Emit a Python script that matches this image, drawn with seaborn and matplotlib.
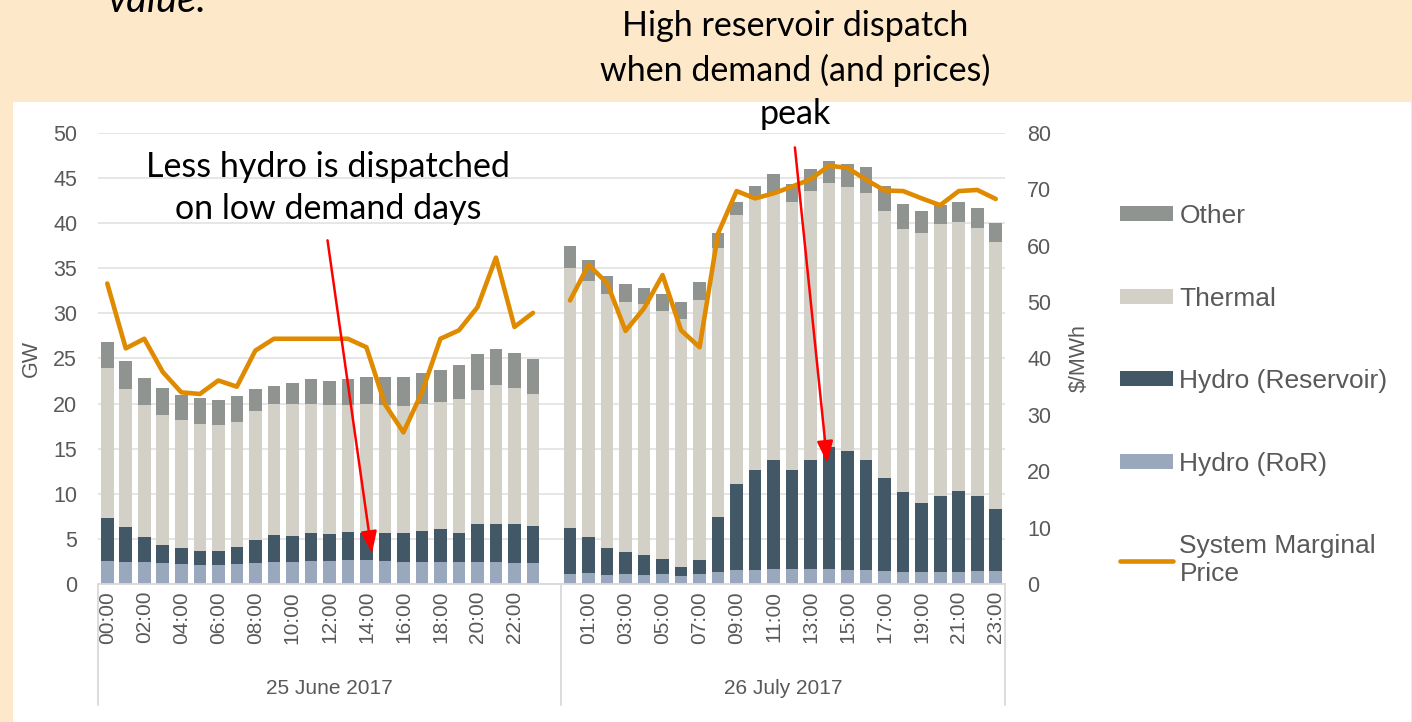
import pandas as pd
import seaborn as sns
import matplotlib.pyplot as plt
import matplotlib.transforms as mtransforms
from matplotlib.patches import Patch, Rectangle
from matplotlib.lines import Line2D

# dados (GW por componente, preço em $/MWh)
days = ["25 June 2017", "26 July 2017"]
hours = [f"{h:02d}:00" for h in range(24)]

june_ror = [2.5, 2.4, 2.4, 2.3, 2.2, 2.1, 2.1, 2.2, 2.3, 2.4, 2.4, 2.5,
            2.5, 2.7, 2.7, 2.5, 2.4, 2.4, 2.4, 2.4, 2.4, 2.4, 2.3, 2.3]
june_reservoir = [4.8, 3.9, 2.8, 2.0, 1.8, 1.6, 1.6, 1.9, 2.6, 3.0, 2.9, 3.2,
                  3.0, 3.1, 2.9, 3.1, 3.2, 3.5, 3.7, 3.3, 4.2, 4.3, 4.4, 4.1]
june_thermal = [16.6, 15.3, 14.7, 14.4, 14.2, 14.0, 13.9, 13.9, 14.3, 14.6, 14.7, 14.3,
                14.3, 14.1, 14.4, 14.2, 14.1, 14.1, 14.1, 14.8, 14.9, 15.4, 15.0, 14.7]
june_other = [2.9, 3.1, 2.9, 3.0, 2.8, 2.9, 2.8, 2.8, 2.4, 2.0, 2.3, 2.7,
              2.7, 2.8, 3.0, 3.1, 3.3, 3.4, 3.5, 3.8, 4.0, 4.0, 3.9, 3.8]
june_price = [53.3, 41.8, 43.5, 37.6, 34.0, 33.7, 36.1, 35.0, 41.4, 43.5, 43.5, 43.5,
              43.5, 43.5, 42.0, 31.9, 26.9, 34.0, 43.5, 45.0, 49.1, 57.9, 45.6, 48.1]

july_ror = [1.1, 1.2, 1.0, 1.1, 1.0, 1.1, 0.9, 1.1, 1.3, 1.6, 1.6, 1.7,
            1.7, 1.7, 1.7, 1.6, 1.5, 1.4, 1.3, 1.3, 1.3, 1.3, 1.4, 1.4]
july_reservoir = [5.1, 4.0, 3.0, 2.4, 2.2, 1.7, 1.0, 1.6, 6.1, 9.5, 11.0, 12.0,
                  10.9, 12.1, 13.5, 13.1, 12.3, 10.4, 8.9, 7.7, 8.5, 9.0, 8.4, 6.9]
july_thermal = [28.8, 28.4, 28.2, 27.8, 27.8, 27.5, 27.5, 28.8, 29.8, 29.8, 30.1, 29.7,
                29.7, 29.8, 29.3, 29.3, 29.6, 29.6, 29.2, 29.9, 30.1, 29.8, 29.7, 29.6]
july_other = [2.5, 2.3, 2.0, 2.0, 1.8, 1.8, 1.9, 2.0, 1.7, 1.5, 1.4, 2.0,
              2.1, 2.4, 2.4, 2.6, 2.8, 2.7, 2.7, 2.5, 2.1, 2.3, 2.2, 2.1]
july_price = [50.3, 56.6, 53.4, 44.9, 48.9, 54.8, 45.0, 42.0, 62.2, 69.7, 68.4, 69.3,
              70.5, 71.8, 74.2, 73.8, 71.7, 69.8, 69.7, 68.4, 67.2, 69.7, 69.9, 68.3]

series = ["Other", "Thermal", "Hydro (Reservoir)", "Hydro (RoR)"]
colors = {"Other": "#8F9490", "Thermal": "#D2D0C7",
          "Hydro (Reservoir)": "#425866", "Hydro (RoR)": "#9AA8BE"}
price_color = "#E08A00"
label_color = "#595959"

# monta o DataFrame (um espaço vazio entre os dois dias)
frames = []
for i, (day, ror, res, th, oth, pr) in enumerate([
        (days[0], june_ror, june_reservoir, june_thermal, june_other, june_price),
        (days[1], july_ror, july_reservoir, july_thermal, july_other, july_price)]):
    frames.append(pd.DataFrame({"day": day, "hour": hours, "pos": [i * 25 + h for h in range(24)],
                                "Hydro (RoR)": ror, "Hydro (Reservoir)": res,
                                "Thermal": th, "Other": oth, "price": pr}))
df = pd.concat(frames, ignore_index=True)
df["c_ror"] = df["Hydro (RoR)"]
df["c_res"] = df["c_ror"] + df["Hydro (Reservoir)"]
df["c_th"] = df["c_res"] + df["Thermal"]
df["c_tot"] = df["c_th"] + df["Other"]

sns.set_theme(style="white")
plt.rcParams["font.family"] = ["Liberation Sans", "DejaVu Sans"]

fig = plt.figure(figsize=(14.12, 7.22), dpi=100, facecolor="#FDE8C9")
fig.patches.append(Rectangle((13 / 1412, 0), 1398 / 1412, 620 / 722, transform=fig.transFigure,
                             facecolor="white", edgecolor="none", zorder=-10))

ax = fig.add_axes([98 / 1412, 138 / 722, 907 / 1412, 451 / 722])

# barras empilhadas (camadas cumulativas)
for col, name in [("c_tot", "Other"), ("c_th", "Thermal"), ("c_res", "Hydro (Reservoir)"), ("c_ror", "Hydro (RoR)")]:
    sns.barplot(data=df, x="pos", y=col, native_scale=True, color=colors[name], saturation=1,
                width=0.68, errorbar=None, linewidth=0, ax=ax)

ax.set_xlim(-0.5, 48.5)
ax.set_ylim(0, 50)
ax.set_yticks(range(0, 51, 5))
ax.yaxis.grid(True, color="#E4E4E4", lw=1.3)
ax.xaxis.grid(False)
ax.set_axisbelow(True)
for s in ["top", "left", "right"]:
    ax.spines[s].set_visible(False)
ax.spines["bottom"].set_color("#D9D9D9")
ax.spines["bottom"].set_linewidth(1.3)

tick_pos = list(df.loc[df["day"] == days[0], "pos"][::2]) + list(df.loc[df["day"] == days[1], "pos"][1::2])
tick_lab = list(df.loc[df["day"] == days[0], "hour"][::2]) + list(df.loc[df["day"] == days[1], "hour"][1::2])
ax.set_xticks(tick_pos)
ax.set_xticklabels(tick_lab, rotation=90, fontsize=15, color=label_color)
ax.tick_params(axis="x", length=0, pad=5)
ax.tick_params(axis="y", length=0, pad=15, labelsize=15.5, labelcolor=label_color)
ax.set_xlabel("")
ax.set_ylabel("GW", fontsize=15.5, color=label_color)
ax.yaxis.set_label_coords(-56 / 907, 0.5)

# eixo de categorias em dois níveis
trans = mtransforms.blended_transform_factory(ax.transData, ax.transAxes)
for xs in [-0.5, 24.5, 48.5]:
    ax.plot([xs, xs], [0, -0.268], transform=trans, color="#D9D9D9", lw=1.3, clip_on=False)
for i, day in enumerate(days):
    centre = (i * 25 - 0.5 + (i * 25 + 24 - 0.5 + (0 if i else 1))) / 2
    ax.text(centre, -0.2306, day, transform=trans, ha="center", va="center", fontsize=15, color=label_color)

# preço marginal
ax2 = ax.twinx()
sns.lineplot(data=df, x="pos", y="price", units="day", estimator=None, color=price_color,
             lw=3.3, solid_joinstyle="round", legend=False, ax=ax2)
ax2.set_ylim(0, 80)
ax2.set_yticks(range(0, 81, 10))
ax2.grid(False)
for s in ax2.spines.values():
    s.set_visible(False)
ax2.tick_params(axis="y", length=0, pad=16, labelsize=15.5, labelcolor=label_color)
ax2.set_ylabel("$/MWh", fontsize=15.5, color=label_color)
ax2.yaxis.set_label_coords(971 / 907, 0.5)
ax2.set_xlim(-0.5, 48.5)

# anotações
arrow = dict(arrowstyle="-|>,head_length=0.6,head_width=0.22", color="red", lw=1.8,
             mutation_scale=22, shrinkA=0, shrinkB=0)
ax2.annotate("", xy=(14.3, 3.4), xycoords=ax.transData, xytext=(11.9, 38.1),
             textcoords=ax.transData, arrowprops=arrow)
ax2.annotate("", xy=(38.9, 13.4), xycoords=ax.transData, xytext=(37.15, 48.4),
             textcoords=ax.transData, arrowprops=arrow)
fig.text(328 / 1412, 1 - 188 / 722, "Less hydro is dispatched\non low demand days",
         ha="center", va="center", fontsize=24.5, family=["Lato", "DejaVu Sans"],
         linespacing=1.42, color="black")
fig.text(795 / 1412, 1 - 70 / 722, "High reservoir dispatch\nwhen demand (and prices)\npeak",
         ha="center", va="center", fontsize=24.5, family=["Lato", "DejaVu Sans"],
         linespacing=1.42, color="black")
fig.text(108 / 1412, 1 - 12 / 722, "value.", ha="left", va="baseline", fontsize=29,
         style="italic", family=["Lato", "DejaVu Sans"], color="black")

# legenda
handles = [Patch(facecolor=colors[n], edgecolor="none") for n in series]
handles.append(Line2D([], [], color=price_color, lw=3.3))
labels = series + ["System Marginal\nPrice"]
fig.legend(handles, labels, loc="upper left", bbox_to_anchor=(1120 / 1412, 1 - 204 / 722),
           frameon=False, fontsize=19, handlelength=2.0, handleheight=0.5,
           handletextpad=0.25, labelspacing=2.22, borderpad=0, borderaxespad=0,
           labelcolor=label_color)

fig.savefig("out.png", dpi=100, facecolor=fig.get_facecolor())
